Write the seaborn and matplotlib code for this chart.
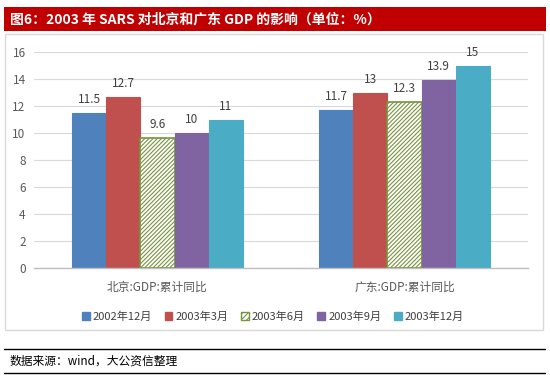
import matplotlib
matplotlib.use('Agg')
import matplotlib.pyplot as plt
import seaborn as sns
import pandas as pd
from matplotlib.patches import Rectangle, Patch
from matplotlib.lines import Line2D

regions = ['北京:GDP:累计同比', '广东:GDP:累计同比']
periods = ['2002年12月', '2003年3月', '2003年6月', '2003年9月', '2003年12月']
beijing = [11.5, 12.7, 9.6, 10, 11]
guangdong = [11.7, 13, 12.3, 13.9, 15]
yticks = [0, 2, 4, 6, 8, 10, 12, 14, 16]
title = '图6：2003 年 SARS 对北京和广东 GDP 的影响（单位：%）'
source = '数据来源：wind，大公资信整理'
colors = ['#4F81BD', '#C0504D', '#9BBB59', '#8064A2', '#4BACC6']

sns.set_theme(style='white')
plt.rcParams['font.family'] = ['Noto Sans CJK SC', 'DejaVu Sans']
plt.rcParams['hatch.linewidth'] = 0.8

df = pd.DataFrame({
    'region': [r for r in regions for _ in periods],
    'period': periods * 2,
    'value': beijing + guangdong,
})

W, H = 550, 382
fig = plt.figure(figsize=(W / 100, H / 100), dpi=100)
fig.patch.set_facecolor('white')

def fy(y):
    return 1 - y / H

# decorations
fig.add_artist(Rectangle((4 / W, fy(31)), (546 - 4) / W, 24 / H, transform=fig.transFigure,
                         facecolor='#C00000', edgecolor='none'))
fig.text(10 / W, fy(19), title, color='white', fontsize=10, fontweight='bold',
         va='center', ha='left')
fig.add_artist(Rectangle((5 / W, fy(330)), (543 - 5) / W, (330 - 34) / H, transform=fig.transFigure,
                         facecolor='none', edgecolor='#D9D9D9', lw=1))
for yy in (349, 373):
    fig.add_artist(Line2D([4 / W, 545 / W], [fy(yy), fy(yy)], transform=fig.transFigure,
                          color='black', lw=1))
fig.text(10 / W, fy(361), source, color='black', fontsize=8.5, style='italic',
         va='center', ha='left')

ax = fig.add_axes([34 / W, 114 / H, (528 - 34) / W, (330 - 114) / H])
sns.barplot(data=df, x='region', y='value', hue='period', order=regions, hue_order=periods,
            palette=colors, width=0.69, ax=ax, legend=False, saturation=1, linewidth=0)

for i, cont in enumerate(ax.containers):
    for p in cont:
        if i == 2:
            p.set_facecolor('white')
            p.set_edgecolor('#77933C')
            p.set_hatch('////////')
            p.set_linewidth(1.2)
        else:
            p.set_edgecolor(colors[i])
            p.set_linewidth(0.8)
    ax.bar_label(cont, fmt='%g', padding=5, fontsize=8.5, color='#404040')

ax.set_xlim(-0.5, 1.5)
ax.set_ylim(0, 16)
ax.set_yticks(yticks)
ax.set_yticklabels([str(v) for v in yticks])
ax.yaxis.grid(True, color='#D9D9D9', lw=0.8)
ax.set_axisbelow(True)
for s in ['top', 'right', 'left']:
    ax.spines[s].set_visible(False)
ax.spines['bottom'].set_color('#BFBFBF')
ax.spines['bottom'].set_linewidth(1)
ax.set_xlabel('')
ax.set_ylabel('')
ax.tick_params(axis='y', length=0, pad=6, labelsize=8.5, labelcolor='#595959')
ax.tick_params(axis='x', which='major', length=0, pad=9, labelsize=8.5, labelcolor='#595959')
ax.set_xticks([-0.5, 0.5, 1.5], minor=True)
ax.tick_params(axis='x', which='minor', length=4, color='#BFBFBF', width=1, direction='out')
ax.set_facecolor('none')

handles = []
for i in range(5):
    if i == 2:
        handles.append(Patch(facecolor='white', edgecolor='#77933C', hatch='//////', lw=1))
    else:
        handles.append(Patch(facecolor=colors[i], edgecolor=colors[i]))
fig.legend(handles, periods, loc='center', bbox_to_anchor=(273 / W, fy(317)), ncol=5,
           frameon=False, fontsize=8, handlelength=0.7, handleheight=0.7,
           handletextpad=0.3, columnspacing=1.1, labelcolor='#404040')

fig.savefig('out.png', dpi=100)
